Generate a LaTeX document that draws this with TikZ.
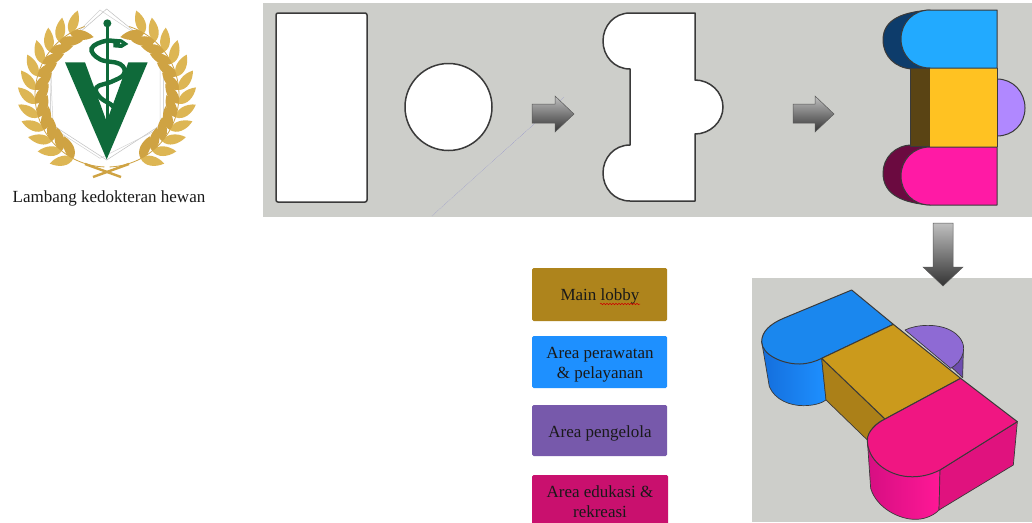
\documentclass[tikz,border=0pt]{standalone}
\usepackage{fontspec}
\setmainfont{Liberation Serif}
\usetikzlibrary{decorations.pathmorphing}
\definecolor{panel}{HTML}{CDCECA}
\definecolor{edge}{HTML}{3A3A3A}
\definecolor{leafA}{HTML}{DDB654}
\definecolor{leafB}{HTML}{CFA343}
\definecolor{vgreen}{HTML}{0F6A3A}
\tikzset{
  panelbox/.style={fill=panel,draw=none},
  plan/.style={fill=white,draw=edge,line width=1.5pt,line join=round},
  mass/.style={draw=edge,line width=1pt,line join=round},
  thinmass/.style={draw=edge,line width=0.7pt,line join=round},
  gradarrow/.style={top color=black!25,bottom color=black!80,draw=black!65,line width=0.5pt,line join=miter},
  swatch/.style={rounded corners=1.5pt},
  legend/.style={minimum width=135pt,inner sep=0pt,align=center,font=\fontsize{17}{20}\selectfont,text=black!90}
}
\newcommand{\leafshape}{(0,0) .. controls (5,-7) and (16,-6) .. (24,0) .. controls (16,6) and (5,7) .. (0,0) -- cycle}
\begin{document}
\begin{tikzpicture}[x=1pt,y=-1pt]
\useasboundingbox (0,0) rectangle (1032,522);
\fill[white] (0,0) rectangle (1032,522);
% logo: frame
\begin{scope}[scale=1/3]
\draw[black!25,line width=0.5pt] (320,27) -- (490,165) -- (490,370) -- (320,480) -- (150,370) -- (155,170) -- cycle;
\draw[black!18,line width=0.5pt] (300,30) -- (480,150) -- (480,385) -- (300,475) -- (160,385) -- (150,180) -- cycle;
\end{scope}
% logo: wreath
\foreach \m in {1,-1}{
\begin{scope}[shift={(107,0)},xscale=\m]
  \draw[leafB,line width=0.8pt] plot[smooth,domain=-88:72,samples=30] ({-72*cos(\x)},{95-72*sin(\x)});
  \draw[leafB,line width=2.4pt] (-22,164) -- (14,177);
  \foreach \t in {-62,-51,...,66}{
    \pgfmathsetmacro{\px}{-72*cos(\t)}
    \pgfmathsetmacro{\py}{95-72*sin(\t)}
    \pgfmathsetmacro{\ra}{130-\t}
    \pgfmathsetmacro{\rb}{50-\t}
    \fill[leafA,shift={(\px,\py)},rotate=\ra] \leafshape;
    \fill[leafB,shift={(\px,\py)},rotate=\rb] \leafshape;
  }
\end{scope}}
% logo: emblem
\begin{scope}[scale=1/3]
\fill[vgreen] (195,187) -- (255,187) -- (320,365) -- (385,187) -- (443,187) -- (320,478) -- cycle;
\draw[vgreen,line width=2.6pt] (322,70) -- (322,385);
\fill[vgreen] (322,70) circle (12);
\draw[vgreen,line width=4.4pt,line cap=round] plot[smooth,tension=0.7] coordinates {(362,130) (320,122) (275,145) (300,178) (360,192) (372,222) (335,245) (290,262) (300,292) (340,320) (345,350) (322,392)};
\fill[vgreen] (340,116) -- (365,118) -- (385,132) -- (365,144) -- (340,142) -- cycle;
\fill[white] (362,130) circle (2.5);
\end{scope}
\node[font=\fontsize{17}{20}\selectfont,text=black!90,anchor=base] (caption) at (109,202) {Lambang kedokteran hewan};
% panels
\fill[panelbox] (263,3) rectangle (1032,217);
\fill[panelbox] (752,278) rectangle (1032,522);
% step 1
\draw[plan,rounded corners=2pt] (276,13) rectangle (367,202);
\draw[plan] (448.5,107) circle (43.5);
\draw[blue!50!black!40,line width=0.5pt,densely dotted] (432,216) -- (564,97);
% step 2
\draw[plan] (695,13) -- (630,13) .. controls (614,13) and (603,26) .. (603,41) .. controls (603,56) and (614,69) .. (630,69) -- (630,145)
  .. controls (614,145) and (603,158) .. (603,173) .. controls (603,188) and (614,201) .. (630,201) -- (695,201) -- (695,134)
  .. controls (710,134) and (723,122) .. (723,107) .. controls (723,92) and (710,80) .. (695,80) -- cycle;
% step 3
\draw[mass,fill={rgb,255:red,13;green,60;blue,107}] (930,10) .. controls (905,12) and (883,18) .. (883,40) .. controls (883,56) and (895,68) .. (912,69) -- (930,68) -- cycle;
\draw[mass,fill={rgb,255:red,107;green,10;blue,64}] (930,205) .. controls (905,203) and (883,196) .. (883,173) .. controls (883,158) and (895,145) .. (912,145) -- (930,145) -- cycle;
\draw[mass,fill={rgb,255:red,90;green,68;blue,20}] (910,68) rectangle (930,146);
\draw[mass,fill={rgb,255:red,176;green,136;blue,255}] (997,79) .. controls (1013,79) and (1025,92) .. (1025,108) .. controls (1025,124) and (1013,136) .. (997,136) -- cycle;
\fill[fill={rgb,255:red,255;green,194;blue,34}] (930,68) rectangle (997,147);
\draw[mass,fill={rgb,255:red,34;green,170;blue,255}] (997,10) -- (930,10) .. controls (913,10) and (901,23) .. (901,39) .. controls (901,55) and (913,68) .. (930,68) -- (997,68) -- cycle;
\draw[mass,fill={rgb,255:red,255;green,26;blue,165}] (997,147) -- (930,147) .. controls (913,147) and (901,160) .. (901,176) .. controls (901,192) and (913,205) .. (930,205) -- (997,205) -- cycle;
\draw[mass] (997,68) -- (997,147);
% arrows
\shade[gradarrow] (532,104) -- (555,104) -- (555,96) -- (574,114) -- (555,132) -- (555,123) -- (532,123) -- cycle;
\shade[gradarrow] (793,104) -- (815,104) -- (815,96) -- (834,114) -- (815,132) -- (815,123) -- (793,123) -- cycle;
\shade[gradarrow] (933,223) -- (953,223) -- (953,267) -- (963,267) -- (943,286) -- (923,267) -- (933,267) -- cycle;
% legend
\fill[swatch,fill={rgb,255:red,174;green,132;blue,28}] (532,268) rectangle (667,321);
\fill[swatch,fill={rgb,255:red,30;green,144;blue,255}] (532,336) rectangle (667,388);
\fill[swatch,fill={rgb,255:red,119;green,89;blue,171}] (532,405) rectangle (667,456);
\fill[swatch,fill={rgb,255:red,201;green,16;blue,110}] (532,475) rectangle (668,526);
\node[legend] (lobby) at (600,296) {Main lobby};
\draw[red!80!black,line width=0.5pt,decorate,decoration={snake,amplitude=0.7pt,segment length=3pt}] (600,304) -- (640,304);
\node[legend] (care) at (600,365) {Area perawatan\\\& pelayanan};
\node[legend] (manage) at (600,433) {Area pengelola};
\node[legend] (edu) at (600,501.5) {Area edukasi \&\\rekreasi};
% 3D massing
\begin{scope}[shift={(750,275)},scale=1/3]
\draw[thinmass,fill={rgb,255:red,110;green,77;blue,176}] (640,225) -- (638,308) -- (605,277) -- cycle;
\draw[thinmass,fill={rgb,255:red,142;green,106;blue,212}] (465,165) .. controls (500,148) and (560,145) .. (600,165) .. controls (630,180) and (645,205) .. (640,230) .. controls (635,255) and (620,270) .. (602,280) -- cycle;
\shadedraw[thinmass,left color={rgb,255:red,20;green,110;blue,220},right color={rgb,255:red,30;green,144;blue,255}] (35,200) -- (58,335) .. controls (75,375) and (120,392) .. (160,392) .. controls (190,392) and (215,385) .. (228,375) -- (215,250) -- cycle;
\draw[mass,fill={rgb,255:red,26;green,135;blue,238}] (305,45) -- (430,148) -- (215,250) .. controls (195,260) and (175,266) .. (150,267) .. controls (100,268) and (35,240) .. (35,200) .. controls (35,170) and (60,147) .. (100,130) -- cycle;
\draw[thinmass,fill={rgb,255:red,171;green,128;blue,24}] (215,250) -- (405,432) .. controls (375,445) and (355,470) .. (352,495) -- (228,375) -- cycle;
\draw[mass,fill={rgb,255:red,203;green,154;blue,28}] (430,148) -- (632,310) -- (405,432) -- (215,250) -- cycle;
\shadedraw[thinmass,left color={rgb,255:red,214;green,14;blue,130},right color={rgb,255:red,255;green,24;blue,150}] (352,495) -- (362,640) .. controls (380,700) and (450,735) .. (500,733) .. controls (530,732) and (555,718) .. (567,705) -- (570,585) -- cycle;
\draw[thinmass,fill={rgb,255:red,224;green,18;blue,126}] (570,585) -- (802,440) -- (790,570) -- (567,705) -- cycle;
\draw[mass,fill={rgb,255:red,240;green,22;blue,130}] (632,310) -- (802,440) -- (570,585) .. controls (540,600) and (510,607) .. (475,605) .. controls (410,600) and (352,555) .. (352,495) .. controls (352,470) and (378,445) .. (405,432) -- cycle;
\end{scope}
\end{tikzpicture}
\end{document}
